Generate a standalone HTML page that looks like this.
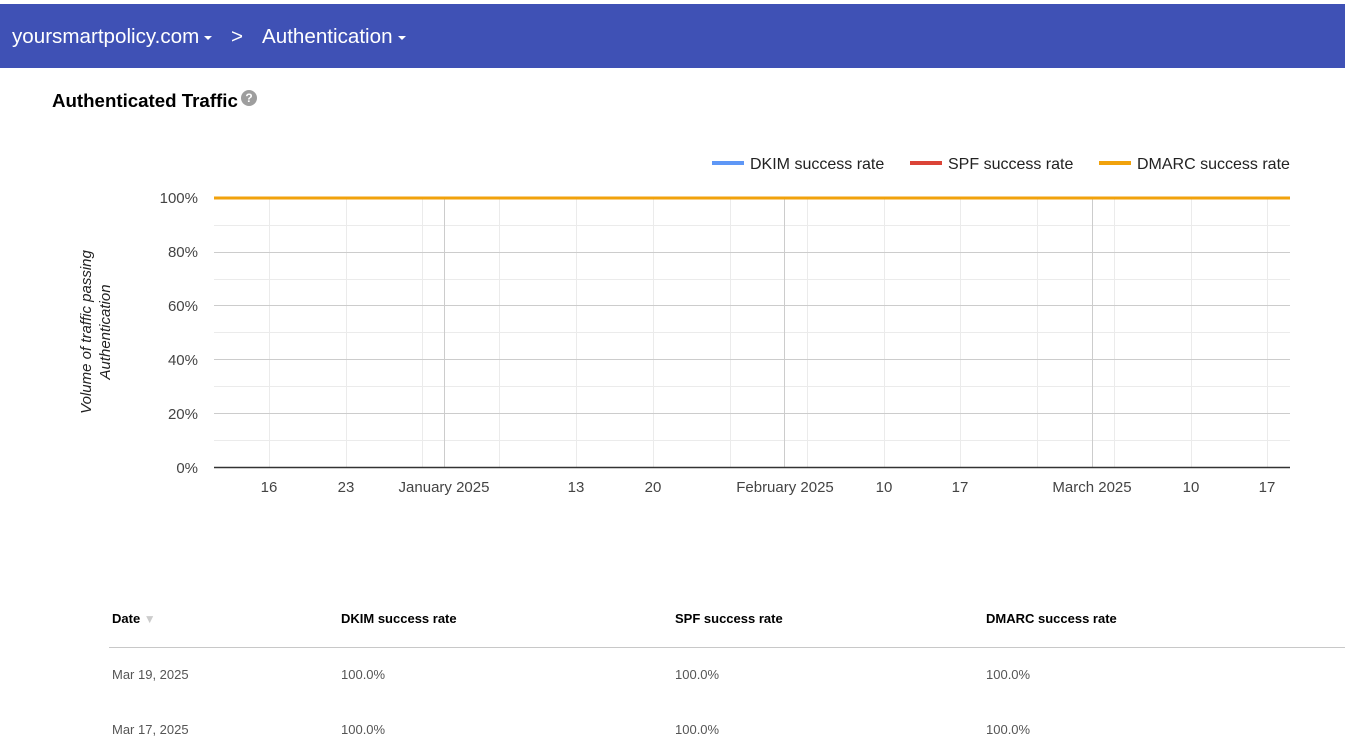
<!DOCTYPE html>
<html><head><meta charset="utf-8"><style>
body{margin:0;width:1345px;height:750px;overflow:hidden;background:#fff;font-family:"Liberation Sans",Arial,sans-serif;position:relative}
.hdr{position:absolute;left:0;top:4px;width:1345px;height:64px;background:#3f51b5;color:#fff;font-size:20.6px}
.hdr span{position:absolute;top:21px}
.tri{display:inline-block;width:0;height:0;border-left:4px solid transparent;border-right:4px solid transparent;border-top:4px solid #fff;vertical-align:middle;margin-left:5px}
.t{position:absolute;font-size:13px}
</style></head><body>
<div class="hdr"><span style="left:12px">yoursmartpolicy.com<i class="tri"></i></span><span style="left:231px">&gt;</span><span style="left:262px">Authentication<i class="tri"></i></span></div>
<div style="position:absolute;left:52px;top:90px;font-size:18.7px;font-weight:bold;color:#000">Authenticated Traffic</div>
<div style="position:absolute;left:241px;top:90px;width:16px;height:16px;border-radius:50%;background:#9e9e9e;color:#fff;font-size:12px;font-weight:bold;text-align:center;line-height:16px">?</div>
<svg style="position:absolute;left:0;top:0" width="1345" height="750" font-family="Liberation Sans, Arial, sans-serif">
<g stroke="#ebebeb" stroke-width="1">
<line x1="214" x2="1290" y1="225.5" y2="225.5"/><line x1="214" x2="1290" y1="279.5" y2="279.5"/><line x1="214" x2="1290" y1="332.5" y2="332.5"/><line x1="214" x2="1290" y1="386.5" y2="386.5"/><line x1="214" x2="1290" y1="440.5" y2="440.5"/>
<line x1="269.5" x2="269.5" y1="198" y2="467"/><line x1="346.5" x2="346.5" y1="198" y2="467"/><line x1="422.5" x2="422.5" y1="198" y2="467"/><line x1="499.5" x2="499.5" y1="198" y2="467"/><line x1="576.5" x2="576.5" y1="198" y2="467"/><line x1="653.5" x2="653.5" y1="198" y2="467"/><line x1="730.5" x2="730.5" y1="198" y2="467"/><line x1="807.5" x2="807.5" y1="198" y2="467"/><line x1="884.5" x2="884.5" y1="198" y2="467"/><line x1="960.5" x2="960.5" y1="198" y2="467"/><line x1="1037.5" x2="1037.5" y1="198" y2="467"/><line x1="1114.5" x2="1114.5" y1="198" y2="467"/><line x1="1191.5" x2="1191.5" y1="198" y2="467"/><line x1="1267.5" x2="1267.5" y1="198" y2="467"/>
</g>
<g stroke="#cccccc" stroke-width="1">
<line x1="214" x2="1290" y1="252.5" y2="252.5"/><line x1="214" x2="1290" y1="305.5" y2="305.5"/><line x1="214" x2="1290" y1="359.5" y2="359.5"/><line x1="214" x2="1290" y1="413.5" y2="413.5"/>
<line x1="444.5" x2="444.5" y1="198" y2="467"/><line x1="784.5" x2="784.5" y1="198" y2="467"/><line x1="1092.5" x2="1092.5" y1="198" y2="467"/>
</g>
<line x1="214" x2="1290" y1="467.5" y2="467.5" stroke="#333" stroke-width="1.5"/>
<line x1="214" x2="1290" y1="198" y2="198" stroke="#f1a20c" stroke-width="3"/>
<g font-size="15" fill="#444" text-anchor="end">
<text x="198" y="203">100%</text><text x="198" y="257">80%</text><text x="198" y="311">60%</text><text x="198" y="365">40%</text><text x="198" y="419">20%</text><text x="198" y="473">0%</text>
</g>
<g font-size="15" fill="#444" text-anchor="middle">
<text x="269" y="492">16</text><text x="346" y="492">23</text><text x="444" y="492">January 2025</text><text x="576" y="492">13</text><text x="653" y="492">20</text><text x="785" y="492">February 2025</text><text x="884" y="492">10</text><text x="960" y="492">17</text><text x="1092" y="492">March 2025</text><text x="1191" y="492">10</text><text x="1267" y="492">17</text>
</g>
<g font-size="15" fill="#222" font-style="italic" text-anchor="middle">
<text transform="translate(91,332) rotate(-90)">Volume of traffic passing</text>
<text transform="translate(110,332) rotate(-90)">Authentication</text>
</g>
<g font-size="16" fill="#222">
<rect x="712" y="161" width="32" height="4" fill="#5e97f6"/><text x="750" y="169">DKIM success rate</text>
<rect x="910" y="161" width="32" height="4" fill="#db4437"/><text x="948" y="169">SPF success rate</text>
<rect x="1099" y="161" width="32" height="4" fill="#f1a20c"/><text x="1137" y="169">DMARC success rate</text>
</g>
<line x1="109" x2="1345" y1="647.5" y2="647.5" stroke="#c8c8c8"/>
</svg>
<div class="t" style="left:112px;top:611px;font-weight:bold">Date <span style="color:#ccc;font-size:12px">▼</span></div>
<div class="t" style="left:341px;top:611px;font-weight:bold">DKIM success rate</div>
<div class="t" style="left:675px;top:611px;font-weight:bold">SPF success rate</div>
<div class="t" style="left:986px;top:611px;font-weight:bold">DMARC success rate</div>
<div class="t" style="left:112px;top:667px;color:#555">Mar 19, 2025</div>
<div class="t" style="left:341px;top:667px;color:#555">100.0%</div>
<div class="t" style="left:675px;top:667px;color:#555">100.0%</div>
<div class="t" style="left:986px;top:667px;color:#555">100.0%</div>
<div class="t" style="left:112px;top:722px;color:#555">Mar 17, 2025</div>
<div class="t" style="left:341px;top:722px;color:#555">100.0%</div>
<div class="t" style="left:675px;top:722px;color:#555">100.0%</div>
<div class="t" style="left:986px;top:722px;color:#555">100.0%</div>
</body></html>
